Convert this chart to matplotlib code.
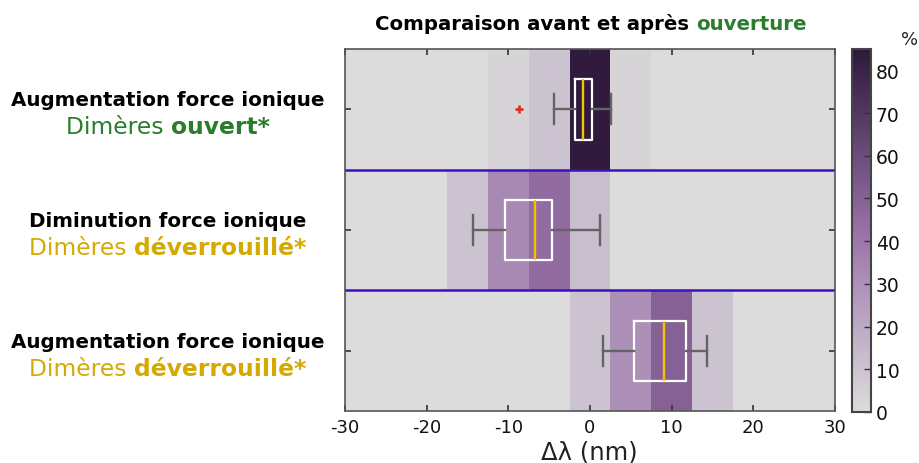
import numpy as np
import matplotlib
matplotlib.use("Agg")
import matplotlib.pyplot as plt
from matplotlib.colors import LinearSegmentedColormap

plt.rcParams["axes.unicode_minus"] = False

# data
bin_centers = [-30, -25, -20, -15, -10, -5, 0, 5, 10, 15, 20, 25, 30]
pct_ouvert = [0, 0, 0, 0, 3, 10, 84, 3, 0, 0, 0, 0, 0]
pct_dim_dever = [0, 0, 0, 10, 33, 45, 12, 0, 0, 0, 0, 0, 0]
pct_aug_dever = [0, 0, 0, 0, 0, 0, 10, 30, 50, 10, 0, 0, 0]

box_q1 = [-1.85, -10.4, 5.4]
box_med = [-0.8, -6.7, 9.1]
box_q3 = [0.25, -4.7, 11.7]
box_whislo = [-4.4, -14.3, 1.6]
box_whishi = [2.6, 1.2, 14.3]
box_fliers = [[-8.7], [], []]

row_line1 = ["Augmentation force ionique", "Diminution force ionique", "Augmentation force ionique"]
row_word = ["ouvert*", "déverrouillé*", "déverrouillé*"]
row_color = ["#2b7d2b", "#d4aa00", "#d4aa00"]

cmap = LinearSegmentedColormap.from_list(
    "pct", [(0, "#dcdcdc"), (42 / 85, "#9a72a9"), (1, "#2d193c")])

W, H = 920, 464
fig = plt.figure(figsize=(9.2, 4.64), dpi=100)
ax = fig.add_axes([345 / W, 1 - 412 / H, 490 / W, 362 / H])
cax = fig.add_axes([852 / W, 1 - 413 / H, 19 / W, 363 / H])

# heatmap
step = bin_centers[1] - bin_centers[0]
x_edges = np.append(np.array(bin_centers) - step / 2, bin_centers[-1] + step / 2)
y_edges = np.arange(4) + 0.5
grid = np.array([pct_ouvert, pct_dim_dever, pct_aug_dever])
mesh = ax.pcolormesh(x_edges, y_edges, grid, cmap=cmap, vmin=0, vmax=85)

# boxplots
stats = []
for i in range(3):
    stats.append(dict(q1=box_q1[i], med=box_med[i], q3=box_q3[i],
                      whislo=box_whislo[i], whishi=box_whishi[i], fliers=box_fliers[i]))
ax.bxp(stats, positions=[1, 2, 3], widths=0.5, capwidths=0.25,
       orientation="horizontal", showfliers=True, manage_ticks=False,
       boxprops=dict(color="white", linewidth=1.6),
       whiskerprops=dict(color="#646464", linewidth=1.7),
       capprops=dict(color="#646464", linewidth=1.7),
       medianprops=dict(color="#f5c400", linewidth=1.7),
       flierprops=dict(marker="+", markeredgecolor="#d9342b", markersize=6, markeredgewidth=2))

# separators
for yb in [1.5, 2.5]:
    ax.axhline(yb, color="#3d0fc4", linewidth=1.8)

ax.set_xlim(-30, 30)
ax.set_ylim(3.5, 0.5)
ax.set_xticks([-30, -20, -10, 0, 10, 20, 30])
ax.set_yticks([1, 2, 3])
ax.set_yticklabels([])
ax.tick_params(direction="in", top=True, right=True, length=4, width=1.2,
               color="#333333", labelsize=13, labelcolor="#111111", pad=5)
for s in ax.spines.values():
    s.set_color("#555555")
    s.set_linewidth(1.2)

# colorbar
cb = fig.colorbar(mesh, cax=cax, ticks=range(0, 90, 10))
cb.outline.set_edgecolor("#444444")
cb.outline.set_linewidth(1.5)
cax.tick_params(direction="in", length=5, width=1, labelsize=13.5, color="#333333", labelcolor="#111111")
fig.text(910 / W, 1 - 40 / H, "%", fontsize=13, ha="center", va="center", color="#222222")

renderer = fig.canvas.get_renderer()


def draw_segments(cx, y_base, segments):
    # segments: list of (text, props); centred on cx (pixels), baseline y_base (pixels from top)
    texts = []
    total = 0
    for s, props in segments:
        t = fig.text(0, 0, s, transform=None, ha="left", va="baseline", **props)
        w = t.get_window_extent(renderer).width
        texts.append((t, w))
        total += w
    x = cx - total / 2
    for t, w in texts:
        t.set_position((x, H - y_base))
        x += w


# x label
draw_segments(589, 460, [("Δλ (nm)", dict(color="#222222", fontsize=17.5))])

# title
title_font = dict(fontsize=14.2, fontweight="bold")
draw_segments(591, 30, [("Comparaison avant et après ", dict(color="black", **title_font)),
                        ("ouverture", dict(color="#2b7d2b", **title_font))])

# row labels
for i in range(3):
    yc = H - ax.transData.transform((0, i + 1))[1]
    draw_segments(168, yc - 4, [(row_line1[i], dict(color="black", fontsize=14.3, fontweight="bold"))])
    draw_segments(168, yc + 24, [("Dimères ", dict(color=row_color[i], fontsize=16.8)),
                                 (row_word[i], dict(color=row_color[i], fontsize=16.8, fontweight="bold"))])

fig.savefig("out.png", dpi=100)
